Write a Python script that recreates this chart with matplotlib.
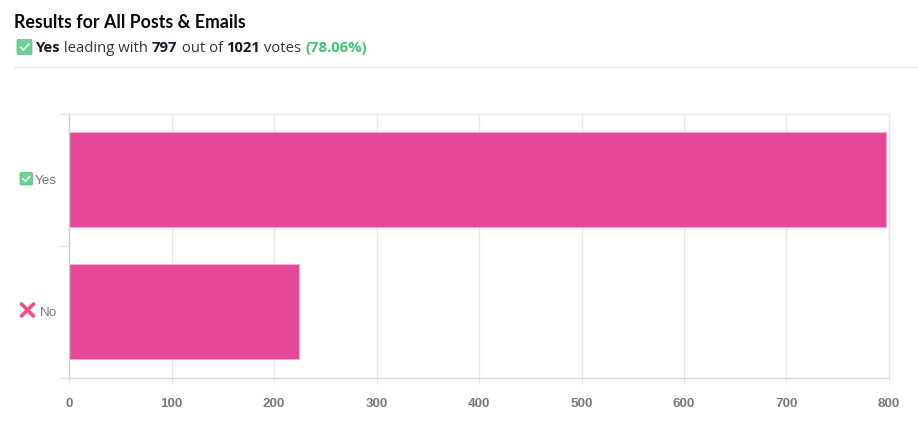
import matplotlib
matplotlib.use("Agg")
import matplotlib.pyplot as plt
from matplotlib.lines import Line2D
from matplotlib.patches import FancyBboxPatch
from matplotlib.transforms import ScaledTranslation

categories = ["Yes", "No"]
votes = [797, 224]
x_ticks = [0, 100, 200, 300, 400, 500, 600, 700, 800]
title = "Results for All Posts & Emails"
# subtitle pieces: text, weight, colour
subtitle = [
    ("Yes", "bold", "#1a1a2a"),
    (" leading with ", "normal", "#333344"),
    ("797", "bold", "#1a1a2a"),
    (" out of ", "normal", "#333344"),
    ("1021", "bold", "#1a1a2a"),
    (" votes ", "normal", "#333344"),
    ("(78.06%)", "bold", "#3fc46f"),
]

W, H = 918, 431
BAR = "#e64898"
GRID = "#e8e8e8"
LABEL = "#7a7a7a"


def px(x, y):
    # pixel position, top-left origin -> figure fraction
    return x / W, 1 - y / H


fig = plt.figure(figsize=(W / 100, H / 100), dpi=100, facecolor="white")

fig.text(*px(14, 23), title, fontsize=12.75, family="Lato", weight="bold",
         color="#0a0a0a", va="center")

# subtitle runs, placed one after the other
renderer = fig.canvas.get_renderer()
x_run = 35.5
for piece, weight, color in subtitle:
    t = fig.text(*px(x_run, 48), piece, fontsize=10.75, family="Open Sans",
                 weight=weight, color=color, va="center")
    # trailing spaces are measured by the advance, not the ink
    w, _, _ = renderer.get_text_width_height_descent(piece, t.get_fontproperties(), False)
    x_run += w

fig.add_artist(Line2D([14 / W, 1], [1 - 67.5 / H] * 2, color="#e6e6e6", lw=1))

ax = fig.add_axes([69 / W, 1 - 378.5 / H, 820 / W, 264 / H])
ax.barh(categories, votes, height=0.72, color=BAR, edgecolor="#f3a6cf", linewidth=0.8, zorder=2)
ax.set_xlim(0, 800)
ax.set_ylim(1.5, -0.5)
ax.set_xticks(x_ticks)
ax.xaxis.grid(True, color=GRID, lw=1, zorder=0)
ax.set_axisbelow(True)

for s in ["top", "right"]:
    ax.spines[s].set_color(GRID)
    ax.spines[s].set_linewidth(1)
ax.spines["left"].set_color("#cfcfcf")
ax.spines["bottom"].set_color("#d6d6d6")
ax.spines["left"].set_linewidth(1)
ax.spines["bottom"].set_linewidth(1)

ax.tick_params(axis="x", length=4, color=GRID, pad=10, labelsize=9.7, labelcolor=LABEL)
for lab in ax.get_xticklabels():
    lab.set_family("Liberation Sans")
    lab.set_weight("bold")

# y labels sit between the ticks; ticks mark the band edges
ax.set_yticks([0, 1])
ax.tick_params(axis="y", length=0, pad=8.5, labelsize=9.7, labelcolor=LABEL)
for lab in ax.get_yticklabels():
    lab.set_family("Liberation Sans")
    lab.set_transform(lab.get_transform() + ScaledTranslation(0, 1 / 100, fig.dpi_scale_trans))
for yp in [114.5, 246.5, 378.5]:
    fig.add_artist(Line2D([60 / W, 69 / W], [1 - yp / H] * 2, color="#e4e4e4", lw=1))

# green check icons, header and Yes row
for x0, y0, size in [(17, 40.5, 15), (20, 173.5, 12.5)]:
    fig.add_artist(FancyBboxPatch((x0, H - y0 - size), size, size,
                                  boxstyle="round,pad=0,rounding_size=1.2",
                                  transform=None, fc="#6fd095", ec="#55bd80", lw=0.5))
    fig.add_artist(Line2D([x0 + 0.25 * size, x0 + 0.43 * size, x0 + 0.78 * size],
                          [H - y0 - 0.52 * size, H - y0 - 0.7 * size, H - y0 - 0.32 * size],
                          transform=None, color="#f2fbf5", lw=1.1))

# red cross for the No row
for ya, yb in [(305, 317), (317, 305)]:
    fig.add_artist(Line2D([21.5, 33.5], [H - ya, H - yb], transform=None,
                          color="#f0527f", lw=2.6, solid_capstyle="round"))

fig.savefig("out.png", dpi=100)
